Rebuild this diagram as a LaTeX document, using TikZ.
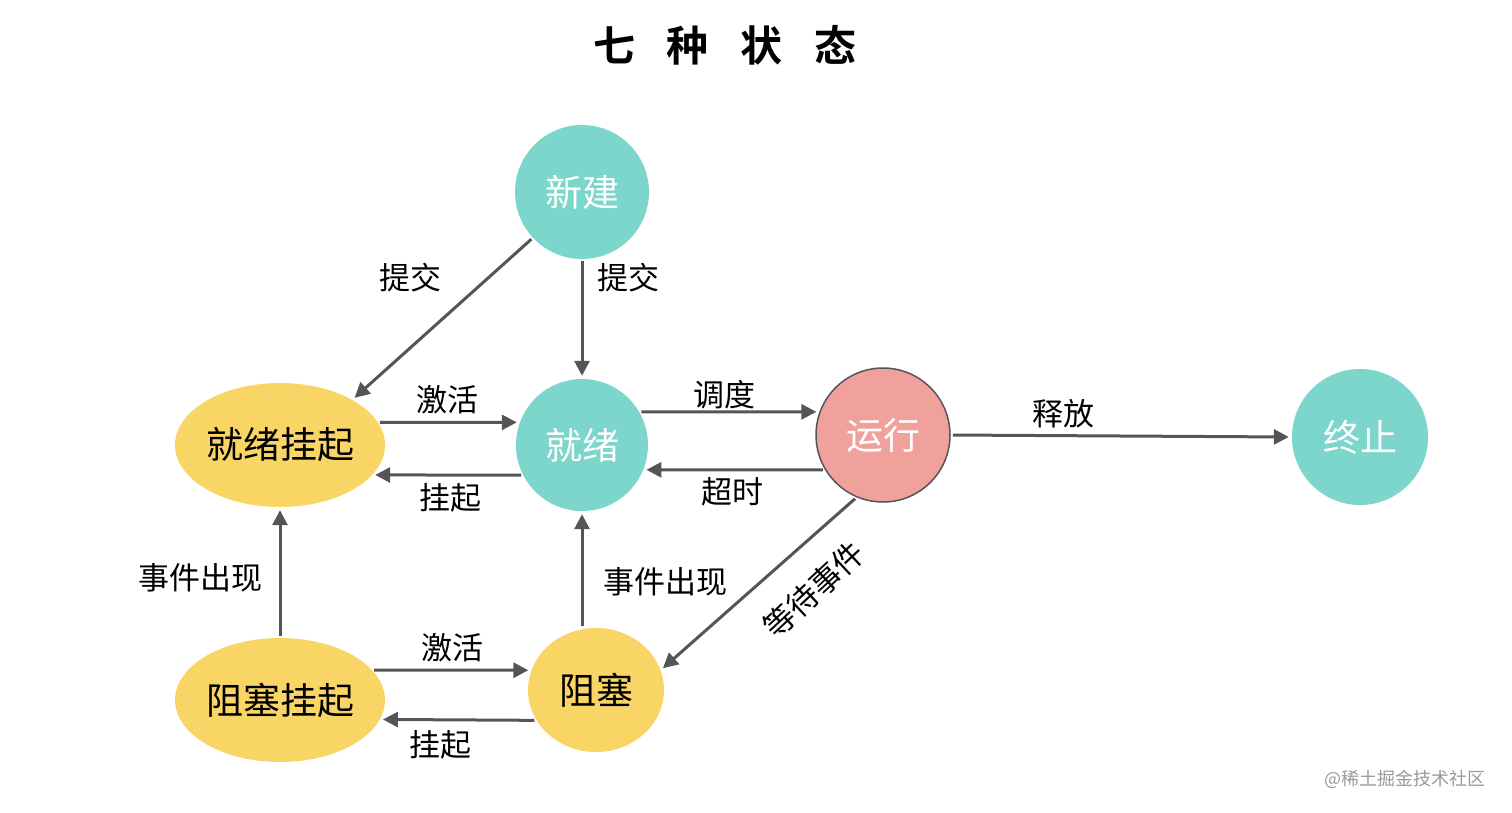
\documentclass[tikz,border=0pt]{standalone}
\usepackage{fontspec}
\setmainfont{Noto Sans CJK SC}
\newfontfamily\titlefont{Noto Sans CJK SC Bold}
\usetikzlibrary{arrows.meta,shapes.geometric,calc}
\definecolor{teal1}{HTML}{7CD6CB}
\definecolor{yel1}{HTML}{F9D566}
\definecolor{pink1}{HTML}{F0A19B}
\definecolor{arr1}{HTML}{555555}
\tikzset{
  tealc/.style={circle,fill=teal1,minimum size=134pt,inner sep=0pt,text=white,font=\fontsize{37}{37}\selectfont},
  yele/.style={ellipse,fill=yel1,minimum width=210pt,minimum height=124pt,inner sep=0pt,text=black,font=\fontsize{37}{37}\selectfont},
  pinkc/.style={circle,fill=pink1,draw=arr1,line width=1.5pt,minimum size=134pt,inner sep=0pt,text=white,font=\fontsize{37}{37}\selectfont},
  arr/.style={draw=arr1,line width=3pt,-{Triangle[width=15pt,length=15pt]},shorten <=2pt,shorten >=3pt},
  lbl/.style={font=\fontsize{31}{31}\selectfont,text=black,inner sep=0pt}
}
\begin{document}
\begin{tikzpicture}[x=1pt,y=-1pt]
\useasboundingbox (0,0) rectangle (1512,812);
\node[font=\titlefont\fontsize{42}{42}\selectfont] (title) at (725,45) {七\hspace{32pt}种\hspace{32pt}状\hspace{32pt}态};
\node[tealc] (xj) at (582,192) {新建};
\node[tealc,minimum size=132pt] (jx) at (582,445) {就绪};
\node[yele] (jxgq) at (280,445) {就绪挂起};
\node[pinkc] (yx) at (883,435) {运行};
\node[tealc,minimum size=136pt] (zz) at (1360,437) {终止};
\node[yele,minimum width=136pt] (zs) at (596,690) {阻塞};
\node[yele] (zsgq) at (280,700) {阻塞挂起};

\draw[arr] (xj.223) -- (jxgq.32);
\draw[arr] (xj.south) -- (jx.north);
\draw[arr] (jxgq.13) -- (jx.160);
\draw[arr] (jx.207) -- (jxgq.-18);
\draw[arr] (jx.30) -- (yx.160);
\draw[arr] (yx.211.5) -- (jx.-22);
\draw[arr] (yx.east) -- (zz.west);
\draw[arr] (yx.247) -- (zs.17);
\draw[arr] (jx.south |- zs.north) -- (jx.south);
\draw[arr] (zsgq.north) -- (jxgq.south);
\draw[arr] (zsgq.18) -- (zs.163);
\draw[arr] (zs.207) -- (zsgq.-11);

\node[lbl] (l1) at (410,278) {提交};
\node[lbl] (l2) at (628,278) {提交};
\node[lbl] (l3) at (447,400) {激活};
\node[lbl] (l4) at (450,498) {挂起};
\node[lbl] (l5) at (724,395) {调度};
\node[lbl] (l6) at (732,492) {超时};
\node[lbl] (l7) at (1063,414) {释放};
\node[lbl,rotate=43] (l8) at (814,590) {等待事件};
\node[lbl] (l9) at (665,582) {事件出现};
\node[lbl] (l10) at (200,578) {事件出现};
\node[lbl] (l11) at (452,648) {激活};
\node[lbl] (l12) at (440,745) {挂起};
\node[font=\fontsize{18}{18}\selectfont,text=gray!80] (wm) at (1405,779) {@稀土掘金技术社区};
\end{tikzpicture}
\end{document}
